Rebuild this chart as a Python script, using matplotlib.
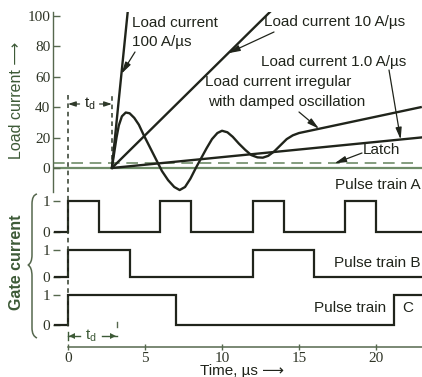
import matplotlib
matplotlib.use("Agg")
import matplotlib.pyplot as plt
from matplotlib.path import Path
from matplotlib.patches import PathPatch
from matplotlib.lines import Line2D
import matplotlib.transforms as mtransforms

# ---------------- data ----------------
TD = 2.85                      # turn-on delay t_d, µs
LATCH = 3.0                    # latching current level
SLOPES = [100.0, 10.0, 1.0]    # load current ramps, A/µs

# irregular load current with damped oscillation (t in µs, current)
osc_t = [2.85, 3.0, 3.15, 3.3, 3.5, 3.75, 4.0, 4.3, 4.6, 4.9, 5.3, 5.7, 6.1,
         6.5, 6.9, 7.25, 7.6, 7.95, 8.3, 8.65, 9.0, 9.35, 9.7, 10.0, 10.35,
         10.7, 11.1, 11.5, 11.9, 12.3, 12.65, 13.0, 13.4, 13.8, 14.2, 14.6,
         15.0, 22.9]
osc_v = [0, 10, 20, 28, 34, 36.5, 36, 33, 28.5, 22, 14, 6, -2,
         -8, -12.5, -14.5, -12.5, -7, 0, 6.5, 13, 19, 23, 24.5, 23.5,
         20.5, 16, 12, 8.5, 7, 6.8, 8, 11, 15, 19, 21.5,
         23, 40]

# gate pulse trains: (on, off) in µs
pulses_a = [(0, 2), (6, 8), (12, 14), (18, 20)]
pulses_b = [(0, 4), (12, 16)]
pulses_c = [(0, 7), (21.2, 28)]

load_ticks = [0, 20, 40, 60, 80, 100]
time_ticks = [0, 5, 10, 15, 20]

# ---------------- layout helpers ----------------
W, H = 422, 377
PX0, PXS = 68.0, 15.4          # pixel of t=0, pixels per µs
INK = "#20241b"
GREEN = "#3d5a37"
AXC = "#56684e"
SANS = ["Liberation Sans", "DejaVu Sans"]
SERIF = ["Liberation Serif", "DejaVu Serif"]

fig = plt.figure(figsize=(W / 100, H / 100), dpi=100)
fig.patch.set_facecolor("white")


def ax_at(x0, y0, x1, y1):
    return fig.add_axes([x0 / W, 1 - y1 / H, (x1 - x0) / W, (y1 - y0) / H])


def t_of(x):
    return (x - PX0) / PXS


XL = (t_of(53), t_of(422))
T_START = t_of(55)

# ---------------- load current panel ----------------
V0, VS = 168.0, 1.52
axL = ax_at(53, 12, 422, 192)
axL.set_xlim(*XL)
axL.set_ylim(-(192 - V0) / VS, (V0 - 12) / VS)
axL.patch.set_alpha(0)
for s in ["top", "right", "bottom"]:
    axL.spines[s].set_visible(False)
axL.spines["left"].set_color(AXC)
axL.spines["left"].set_linewidth(1.0)
axL.set_xticks([])
axL.set_yticks(load_ticks)
axL.set_yticklabels([str(v) for v in load_ticks], family=SERIF, fontsize=11,
                    color="#2f3527")
axL.tick_params(axis="y", direction="in", length=5, width=1, color=AXC, pad=2)

axL.axhline(0, color="#6f8c68", lw=1.6, zorder=1)
axL.axhline(LATCH, color="#6f8c68", lw=1.2, dashes=(7, 4), xmax=0.99, zorder=1)

t_end = XL[1]
for k in SLOPES:
    t_top = TD + 104 / k
    t1 = min(t_top, t_end)
    axL.plot([TD, t1], [0, k * (t1 - TD)], color=INK, lw=1.7,
             solid_capstyle="round", zorder=3)
axL.plot(osc_t, osc_v, color=INK, lw=1.7, solid_joinstyle="round", zorder=3)

# t_d marker in the load panel
axL.plot([TD, TD], [0, 48], color="#2f3a2a", lw=1.1, dashes=(3, 2.5))
vmark = (V0 - 104) / VS
arrow_kw = dict(arrowstyle="-|>,head_length=0.45,head_width=0.15",
                color="#2f3a2a", lw=0.9, shrinkA=0, shrinkB=0)
axL.annotate("", xy=(0, vmark), xytext=(0.75, vmark), arrowprops=arrow_kw)
axL.annotate("", xy=(TD, vmark), xytext=(2.05, vmark), arrowprops=arrow_kw)
axL.text(1.4, vmark, r"$\mathregular{t_d}$", fontsize=11, color=INK,
         ha="center", va="center", family=SANS)

# ---------------- gate pulse panels ----------------


def gate_axes(y_one, y_zero):
    u = y_zero - y_one
    ax = ax_at(53, y_one - 0.35 * u, 422, y_zero + 0.3 * u)
    ax.set_xlim(*XL)
    ax.set_ylim(-0.3, 1.35)
    ax.patch.set_alpha(0)
    for s in ax.spines.values():
        s.set_visible(False)
    ax.set_xticks([])
    ax.set_yticks([0, 1])
    ax.set_yticklabels(["0", "1"], family=SERIF, fontsize=11, color="#2f3527")
    ax.tick_params(axis="y", direction="in", length=5, width=1, color=AXC, pad=2)
    return ax


def pulse_line(ax, pulses):
    xs, ys = [T_START], [0]
    for on, off in pulses:
        xs += [on, on, off, off]
        ys += [0, 1, 1, 0]
    xs.append(XL[1] + 5)
    ys.append(0)
    ax.plot(xs, ys, color=INK, lw=1.6, solid_joinstyle="miter", clip_on=True)


axA = gate_axes(201, 232)
pulse_line(axA, pulses_a)
axB = gate_axes(250, 277)
pulse_line(axB, pulses_b)
axC = gate_axes(295, 325)
pulse_line(axC, pulses_c)
axC.plot([3.2, 3.2], [-0.08, 0.1], color=AXC, lw=1)

# ---------------- time axis ----------------
axT = ax_at(53, 300, 422, 347)
axT.set_xlim(*XL)
axT.set_ylim(0, 47)
axT.patch.set_alpha(0)
for s in ["top", "right", "left"]:
    axT.spines[s].set_visible(False)
axT.spines["bottom"].set_bounds(0, XL[1])
axT.spines["bottom"].set_color(AXC)
axT.spines["bottom"].set_linewidth(1.1)
axT.set_yticks([])
axT.set_xticks(time_ticks)
axT.set_xticklabels([str(t) for t in time_ticks], family=SERIF, fontsize=11,
                    color="#2f3527")
axT.tick_params(axis="x", direction="inout", length=5, width=1, color=AXC, pad=1)

# lower t_d marker: arrows from the label out to t = 0 and t = t_d
ym = 11  # height above the time axis, in axis units (pixels)
axT.plot([0, 0.8], [ym, ym], color=GREEN, lw=1.0)
axT.plot([2.2, 3.2], [ym, ym], color=GREEN, lw=1.0)
axT.plot([0.25], [ym], marker="<", ms=4.5, color=GREEN, mew=0)
axT.plot([2.95], [ym], marker=">", ms=4.5, color=GREEN, mew=0)
axT.plot([0, 0], [ym - 4, ym + 4], color=GREEN, lw=1.0)
axT.text(1.5, ym, r"$\mathregular{t_d}$", fontsize=11, color=GREEN,
         ha="center", va="center", family=SANS)

# dashed line at t = 0 through all panels
blend_fig = mtransforms.blended_transform_factory(axL.transData, fig.transFigure)
fig.add_artist(Line2D([0, 0], [1 - 95 / H, 1 - 328 / H], transform=blend_fig,
                      color="#2f3a2a", lw=1.1, dashes=(3, 2.5)))

# ---------------- annotations ----------------
txt = dict(fontsize=11, color=INK, family=SANS, va="center", ha="left")
fig.text(132 / W, 1 - 23 / H, "Load current", **txt)
fig.text(132 / W, 1 - 42 / H, "100 A/\u00b5s", **txt)
fig.text(264 / W, 1 - 22 / H, "Load current 10 A/\u00b5s", **txt)
fig.text(261 / W, 1 - 62 / H, "Load current 1.0 A/\u00b5s", **txt)
fig.text(205 / W, 1 - 82 / H, "Load current irregular", **txt)
fig.text(208 / W, 1 - 102 / H, "with damped oscillation", **txt)
fig.text(363 / W, 1 - 150 / H, "Latch", **txt)
fig.text(421 / W, 1 - 185 / H, "Pulse train A", **dict(txt, ha="right"))
fig.text(421 / W, 1 - 263 / H, "Pulse train B", **dict(txt, ha="right"))
fig.text(386 / W, 1 - 308 / H, "Pulse train", **dict(txt, ha="right"))
fig.text(408 / W, 1 - 308 / H, "C", **dict(txt, ha="center"))

ann_kw = dict(arrowstyle="-|>,head_length=0.7,head_width=0.18", color=INK,
              lw=0.9, shrinkA=0, shrinkB=0)


def pointer(x_px, y_px, t, v):
    axL.annotate("", xy=(t, v), xytext=(x_px, H - y_px), xycoords="data",
                 textcoords="figure pixels", arrowprops=ann_kw)


pointer(135, 52, TD + 62 / SLOPES[0], 62)
pointer(274, 32, 10.4, SLOPES[1] * (10.4 - TD))
pointer(389, 70, 21.6, SLOPES[2] * (21.6 - TD))
pointer(299, 112, 16.3, 23 + (40 - 23) * (16.3 - 15.0) / (22.9 - 15.0))
pointer(362, 153, 17.3, LATCH)

# axis titles
fig.text(17 / W, 1 - 100 / H, "Load current \u27f6", rotation=90, fontsize=11.5,
         color=GREEN, family=SANS, ha="center", va="center")
fig.text(17 / W, 1 - 262 / H, "Gate current", rotation=90, fontsize=11.5,
         color=GREEN, family=SANS, ha="center", va="center", weight="bold")
fig.text(200 / W, 1 - 371 / H, "Time, \u00b5s \u27f6", fontsize=11, color=INK,
         family=SANS, ha="left", va="center")

# curly brace grouping the gate panels
axO = fig.add_axes([0, 0, 1, 1])
axO.set_xlim(0, W)
axO.set_ylim(H, 0)
axO.axis("off")
axO.patch.set_alpha(0)
verts = [(37, 194), (32, 195), (32, 204), (32, 255), (32, 263), (28, 265),
         (32, 267), (32, 276), (32, 328), (32, 336), (37, 338)]
codes = [Path.MOVETO, Path.CURVE3, Path.CURVE3, Path.LINETO, Path.CURVE3,
         Path.CURVE3, Path.CURVE3, Path.CURVE3, Path.LINETO, Path.CURVE3,
         Path.CURVE3]
axO.add_patch(PathPatch(Path(verts, codes), fill=False, edgecolor=AXC, lw=1.1))

fig.savefig("out.png", dpi=100, facecolor="white")
